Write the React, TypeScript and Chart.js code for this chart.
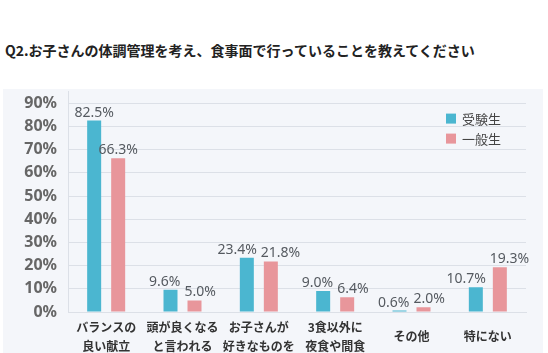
import React, { useEffect, useRef } from "react";
import { Chart, registerables } from "chart.js";

Chart.register(...registerables);

const TITLE = "Q2.お子さんの体調管理を考え、食事面で行っていることを教えてください";
const categories: (string | string[])[] = [
  ["バランスの", "良い献立"],
  ["頭が良くなる", "と言われる"],
  ["お子さんが", "好きなものを"],
  ["3食以外に", "夜食や間食"],
  "その他",
  "特にない",
];
const seriesNames = ["受験生", "一般生"];
const examValues = [82.5, 9.6, 23.4, 9.0, 0.6, 10.7];
const generalValues = [66.3, 5.0, 21.8, 6.4, 2.0, 19.3];
const yTickValues = [0, 10, 20, 30, 40, 50, 60, 70, 80, 90];
const seriesColors = ["#4bb6d0", "#e8969b"];

const valueLabelPlugin = {
  id: "valueLabels",
  afterDatasetsDraw(chart: any) {
    const ctx = chart.ctx;
    const m0 = chart.getDatasetMeta(0);
    const m1 = chart.getDatasetMeta(1);
    ctx.save();
    ctx.font = '14px "Noto Sans", sans-serif';
    ctx.fillStyle = "#555a60";
    ctx.textAlign = "center";
    ctx.textBaseline = "alphabetic";
    for (let i = 0; i < categories.length; i++) {
      const b0 = m0.data[i];
      const b1 = m1.data[i];
      const t0 = examValues[i].toFixed(1) + "%";
      const t1 = generalValues[i].toFixed(1) + "%";
      const w0 = ctx.measureText(t0).width;
      const w1 = ctx.measureText(t1).width;
      let x0 = b0.x;
      let x1 = b1.x;
      const y0 = b0.y - 4;
      const y1 = b1.y - 4;
      if (Math.abs(y0 - y1) < 24) {
        const need = w0 / 2 + w1 / 2 + 4 - (x1 - x0);
        if (need > 0) {
          x0 -= need / 2;
          x1 += need / 2;
        }
      }
      ctx.fillText(t0, x0, y0);
      ctx.fillText(t1, x1, y1);
    }
    ctx.restore();
  },
};

const legendPlugin = {
  id: "cornerLegend",
  afterDraw(chart: any) {
    const ctx = chart.ctx;
    const area = chart.chartArea;
    ctx.save();
    ctx.font = '13px "Noto Sans CJK JP", sans-serif';
    ctx.textAlign = "left";
    ctx.textBaseline = "middle";
    chart.data.datasets.forEach((ds: any, i: number) => {
      const x = area.right - 80;
      const cy = area.top + 27 + i * 20;
      ctx.fillStyle = ds.backgroundColor;
      ctx.fillRect(x, cy - 5, 10, 10);
      ctx.fillStyle = "#444";
      ctx.fillText(ds.label, x + 16, cy);
    });
    ctx.restore();
  },
};

export default function App() {
  const ref = useRef<HTMLCanvasElement | null>(null);

  useEffect(() => {
    if (!ref.current) return;
    const chart = new Chart(ref.current, {
      type: "bar",
      data: {
        labels: categories,
        datasets: [
          {
            label: seriesNames[0],
            data: examValues,
            backgroundColor: seriesColors[0],
            categoryPercentage: 0.629,
            barPercentage: 0.583,
          },
          {
            label: seriesNames[1],
            data: generalValues,
            backgroundColor: seriesColors[1],
            categoryPercentage: 0.629,
            barPercentage: 0.583,
          },
        ],
      },
      options: {
        responsive: false,
        animation: false,
        layout: { padding: { top: 1, right: 22, bottom: 0, left: 0 } },
        plugins: {
          legend: { display: false },
          tooltip: { enabled: false },
          title: { display: false },
        },
        scales: {
          x: {
            grid: { display: false },
            border: { display: true, color: "#dce0e7", width: 1 },
            ticks: {
              color: "#333",
              font: { family: '"Noto Sans CJK JP", sans-serif', size: 12, weight: "bold", lineHeight: 1.6 },
              padding: 7,
              crossAlign: "center",
              maxRotation: 0,
              autoSkip: false,
            },
            afterFit: (s: any) => {
              s.height = 41;
            },
          },
          y: {
            min: 0,
            max: 95,
            afterBuildTicks: (s: any) => {
              s.ticks = yTickValues.map((v) => ({ value: v }));
            },
            grid: { color: "#dce0e7", drawTicks: false, lineWidth: 1 },
            border: { display: true, color: "#dce0e7", width: 1 },
            ticks: {
              color: "#666",
              font: { family: '"Noto Sans", sans-serif', size: 16, weight: "bold" },
              padding: 11,
              callback: (v: any) => v + "%",
            },
            afterFit: (s: any) => {
              s.width = 68;
            },
          },
        },
      },
      plugins: [valueLabelPlugin, legendPlugin],
    });
    return () => chart.destroy();
  }, []);

  return (
    <div
      style={{
        position: "fixed",
        left: 0,
        top: 0,
        width: 548,
        height: 353,
        background: "#ffffff",
        overflow: "hidden",
      }}
    >
      <div
        style={{
          position: "absolute",
          left: 5,
          top: 40,
          fontFamily: '"Noto Sans CJK JP", sans-serif',
          fontSize: 14,
          fontWeight: "bold",
          lineHeight: "20px",
          color: "#222",
          whiteSpace: "nowrap",
        }}
      >
        {TITLE}
      </div>
      <div
        style={{
          position: "absolute",
          left: 3,
          top: 89,
          width: 540,
          height: 264,
          background: "#f4f6fa",
        }}
      />
      <canvas
        ref={ref}
        width={548}
        height={282}
        style={{ position: "absolute", left: 0, top: 71, width: 548, height: 282 }}
      />
    </div>
  );
}
